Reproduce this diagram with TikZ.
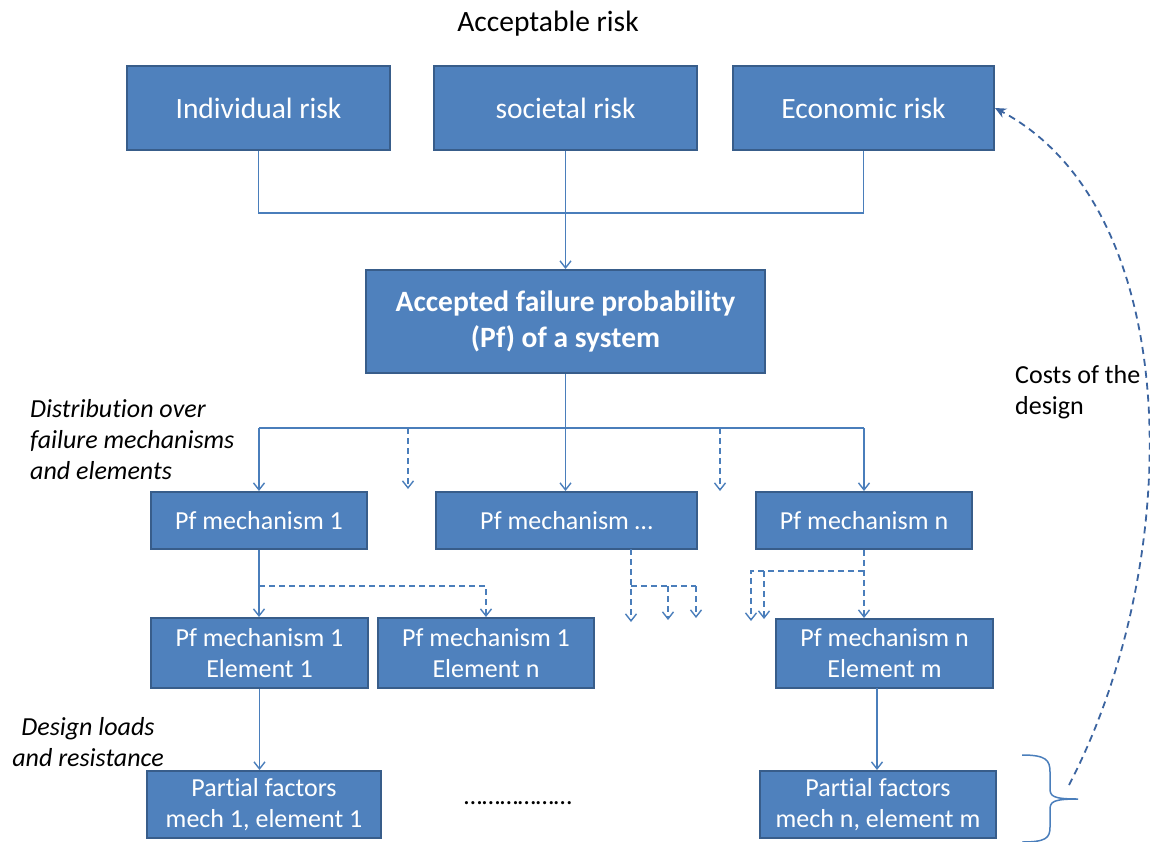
\documentclass[tikz,border=0pt]{standalone}
\usepackage{fontspec}
\setmainfont{Carlito}[Ligatures=NoCommon,RawFeature={-liga;-calt}]
\usetikzlibrary{arrows.meta,calc}
\definecolor{boxfill}{HTML}{4F81BD}
\definecolor{boxline}{HTML}{385D8A}
\definecolor{conn}{HTML}{4A7EBB}
\definecolor{curvec}{HTML}{3B64A0}
\begin{document}
\begin{tikzpicture}[x=1pt,y=-1pt,
  bigfont/.style={font=\fontsize{29.5}{35.4}\selectfont},
  smallfont/.style={font=\fontsize{26}{31}\selectfont},
  box/.style={draw=boxline,fill=boxfill,line width=2pt,text=white,align=center,inner sep=0pt},
  conline/.style={draw=conn,line width=1.5pt},
  arr/.style={conline,-{Straight Barb[length=7pt,width=11pt,line width=1.4pt]}},
  dasharr/.style={arr,dash pattern=on 6pt off 4pt},
  dline/.style={conline,dash pattern=on 6pt off 4pt},
  lab/.style={smallfont,font=\fontsize{26}{31}\selectfont\itshape,inner sep=0pt}
]
\useasboundingbox (0,0) rectangle (1150,841);
\fill[white] (0,0) rectangle (1150,841);

% title
\node[bigfont,inner sep=0pt] (title) at (548,24) {Acceptable risk};

% top boxes
\node[box,bigfont,minimum width=263,minimum height=84] (ind) at (258.5,108) {Individual risk};
\node[box,bigfont,minimum width=263,minimum height=84] (soc) at (565.5,108) {societal risk};
\node[box,bigfont,minimum width=261,minimum height=84] (eco) at (863.5,108) {Economic risk};

\node[box,bigfont,font=\fontsize{29.5}{35.4}\selectfont\bfseries,minimum width=399,minimum height=103] (acc) at (565.5,321.5) {Accepted failure probability\\(Pf) of a system};

% mechanisms
\node[box,smallfont,minimum width=216,minimum height=57] (m1) at (259,520.5) {Pf mechanism 1};
\node[box,smallfont,minimum width=261,minimum height=57] (md) at (566.5,520.5) {Pf mechanism …};
\node[box,smallfont,minimum width=216,minimum height=57] (mn) at (864,520.5) {Pf mechanism n};

% elements
\node[box,smallfont,minimum width=217,minimum height=70] (e11) at (259.5,653) {Pf mechanism 1\\Element 1};
\node[box,smallfont,minimum width=216,minimum height=70] (e1n) at (486,653) {Pf mechanism 1\\Element n};
\node[box,smallfont,minimum width=217,minimum height=69] (enm) at (884.5,653.5) {Pf mechanism n\\Element m};

% partial factors
\node[box,smallfont,minimum width=234,minimum height=67] (pf1) at (264,804.5) {Part\kern0pt ial factors\\mech 1, element 1};
\node[box,smallfont,minimum width=236,minimum height=67] (pfn) at (878,804.5) {Part\kern0pt ial factors\\mech n, element m};

\node[smallfont,inner sep=0pt] (dots) at (518,803) {………………};

% labels
\node[lab,align=left,anchor=west] (ldist) at (30,440) {Distribution over\\failure mechanisms\\and elements};
\node[lab,align=center] (ldesign) at (88,742.5) {Design loads\\and resistance};
\node[smallfont,inner sep=0pt,align=left,anchor=west] (lcost) at (1015,392) {Costs of the\\design};

% top connectors
\coordinate (jt) at (566,213);
\draw[conline] (ind.south) |- (jt) -| (eco.south);
\draw[arr] (soc.south) -- (acc.north);

% distribution
\coordinate (jd) at (566,428);
\draw[arr] (acc.south) -- (acc.south |- md.north);
\draw[conline] (m1.north |- jd) -- (mn.north |- jd);
\draw[arr] (m1.north |- jd) -- (m1.north);
\draw[arr] (mn.north |- jd) -- (mn.north);
\coordinate (dd1a) at (408,428);
\coordinate (dd1b) at (408,489);
\coordinate (dd2a) at (720,428);
\coordinate (dd2b) at (720,491);
\draw[dasharr] (dd1a) -- (dd1b);
\draw[dasharr] (dd2a) -- (dd2b);

% under mechanism 1
\draw[arr] (m1.south) -- (m1.south |- e11.north);
\coordinate (j1) at (259,586);
\draw[dasharr] (j1) -| (e1n.north);

% under mechanism ...
\coordinate (ma) at (631,549);
\coordinate (mb) at (631,586);
\coordinate (mt1) at (631,622);
\coordinate (mt2) at (668,620);
\coordinate (mt3) at (696,618);
\draw[dasharr] (ma) -- (mt1);
\draw[dline] (mb) -- (mb -| mt3);
\draw[dasharr] (mb -| mt3) -- (mt3);
\draw[dasharr] (mb -| mt2) -- (mt2);

% under mechanism n
\draw[dasharr] (mn.south) -- (mn.south |- enm.north);
\coordinate (nb) at (864,571);
\coordinate (nt1) at (751,621);
\coordinate (nt2) at (764,619);
\draw[dasharr] (nb) -| (nt1);
\draw[dasharr] (nb -| nt2) -- (nt2);

% to partial factors
\draw[arr] (e11.south) -- (e11.south |- pf1.north);
\coordinate (ens) at (877,688);
\draw[arr] (ens) -- (ens |- pfn.north);

% brace
\coordinate (brtop) at (1022,755);
\coordinate (brtip) at (1078,799);
\coordinate (brbot) at (1022,842);
\draw[conline] (brtop) .. controls (1046,755) and (1050,760) .. (1050,772)
  -- (1050,788) .. controls (1050,796) and (1052,799) .. (brtip)
  (1078,799) .. controls (1052,799) and (1050,802) .. (1050,810)
  -- (1050,827) .. controls (1050,838) and (1046,842) .. (brbot);

% costs curve
\coordinate (cstart) at (1069,785);
\draw[draw=curvec,line width=1.8pt,dash pattern=on 7pt off 5pt,-{Stealth[length=11pt,width=10pt]}]
  (cstart) .. controls (1186,560) and (1186,209) .. (eco.east |- 0,108);
\end{tikzpicture}
\end{document}
